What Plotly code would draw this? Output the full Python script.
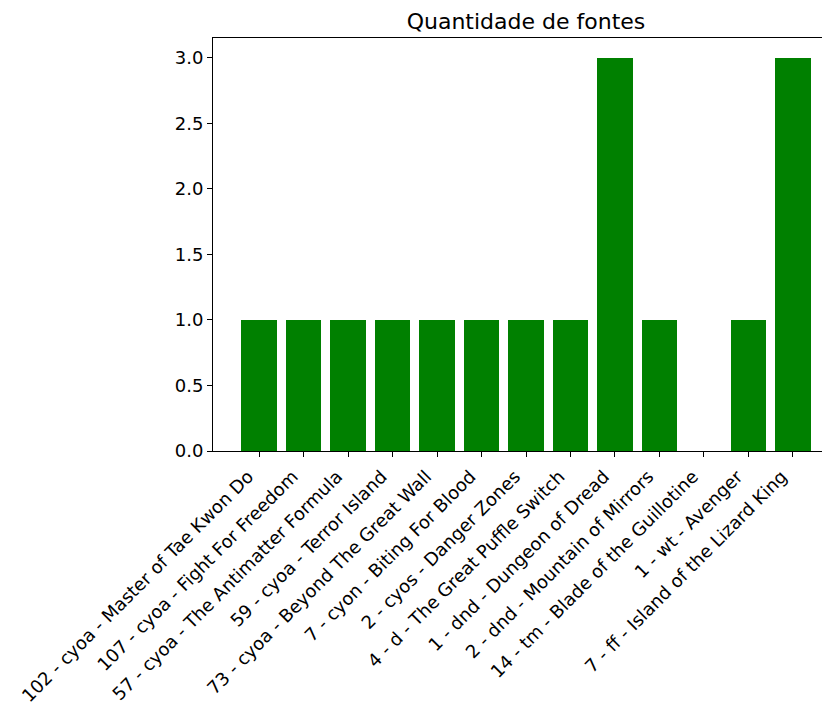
import plotly.graph_objects as go

categories = [
    "102 - cyoa - Master of Tae Kwon Do",
    "107 - cyoa - Fight For Freedom",
    "57 - cyoa - The Antimatter Formula",
    "59 - cyoa - Terror Island",
    "73 - cyoa - Beyond The Great Wall",
    "7 - cyon - Biting For Blood",
    "2 - cyos - Danger Zones",
    "4 - d - The Great Puffle Switch",
    "1 - dnd - Dungeon of Dread",
    "2 - dnd - Mountain of Mirrors",
    "14 - tm - Blade of the Guillotine",
    "1 - wt - Avenger",
    "7 - ff - Island of the Lizard King",
]
values = [1, 1, 1, 1, 1, 1, 1, 1, 3, 1, 0, 1, 3]
y_ticks = [0.0, 0.5, 1.0, 1.5, 2.0, 2.5, 3.0]
title = "Quantidade de fontes"

W, H = 822, 706
font = "DejaVu Sans, Liberation Sans, sans-serif"

fig = go.Figure(go.Bar(
    x=list(range(len(categories))), y=values, width=0.8,
    marker=dict(color="#008000", line=dict(width=0)),
    hoverinfo="skip",
))

fig.update_layout(
    width=W, height=H,
    margin=dict(l=213, r=0, t=38, b=255, pad=0),
    paper_bgcolor="white", plot_bgcolor="white",
    font=dict(family=font, size=18, color="black"),
    showlegend=False,
    title=dict(text=title, x=526 / W, xref="container", xanchor="center",
               y=1 - 21 / H, yref="container", yanchor="middle",
               font=dict(size=22, family=font, color="black")),
    bargap=0,
)
fig.update_xaxes(
    range=[-1.04, 12.657], tickmode="array",
    tickvals=list(range(len(categories))), ticktext=categories,
    tickangle=-45, ticks="outside", ticklen=5, tickwidth=1, tickcolor="black",
    ticklabelshift=-11, ticklabelstandoff=2,
    showline=True, linecolor="black", linewidth=1, mirror=True,
    showgrid=False, zeroline=False,
    tickfont=dict(size=18, family=font, color="black"),
)
fig.update_yaxes(
    range=[0, 3.15], tickmode="array", tickvals=y_ticks,
    ticktext=[f"{v:.1f}" for v in y_ticks],
    ticks="outside", ticklen=5, tickwidth=1, tickcolor="black",
    showline=True, linecolor="black", linewidth=1, mirror=False,
    showgrid=False, zeroline=False,
    tickfont=dict(size=18, family=font, color="black"),
)

fig.write_html(
    "out.html",
    config={"displayModeBar": False},
    post_script="document.body.style.margin='0';document.body.style.overflow='hidden';",
)
